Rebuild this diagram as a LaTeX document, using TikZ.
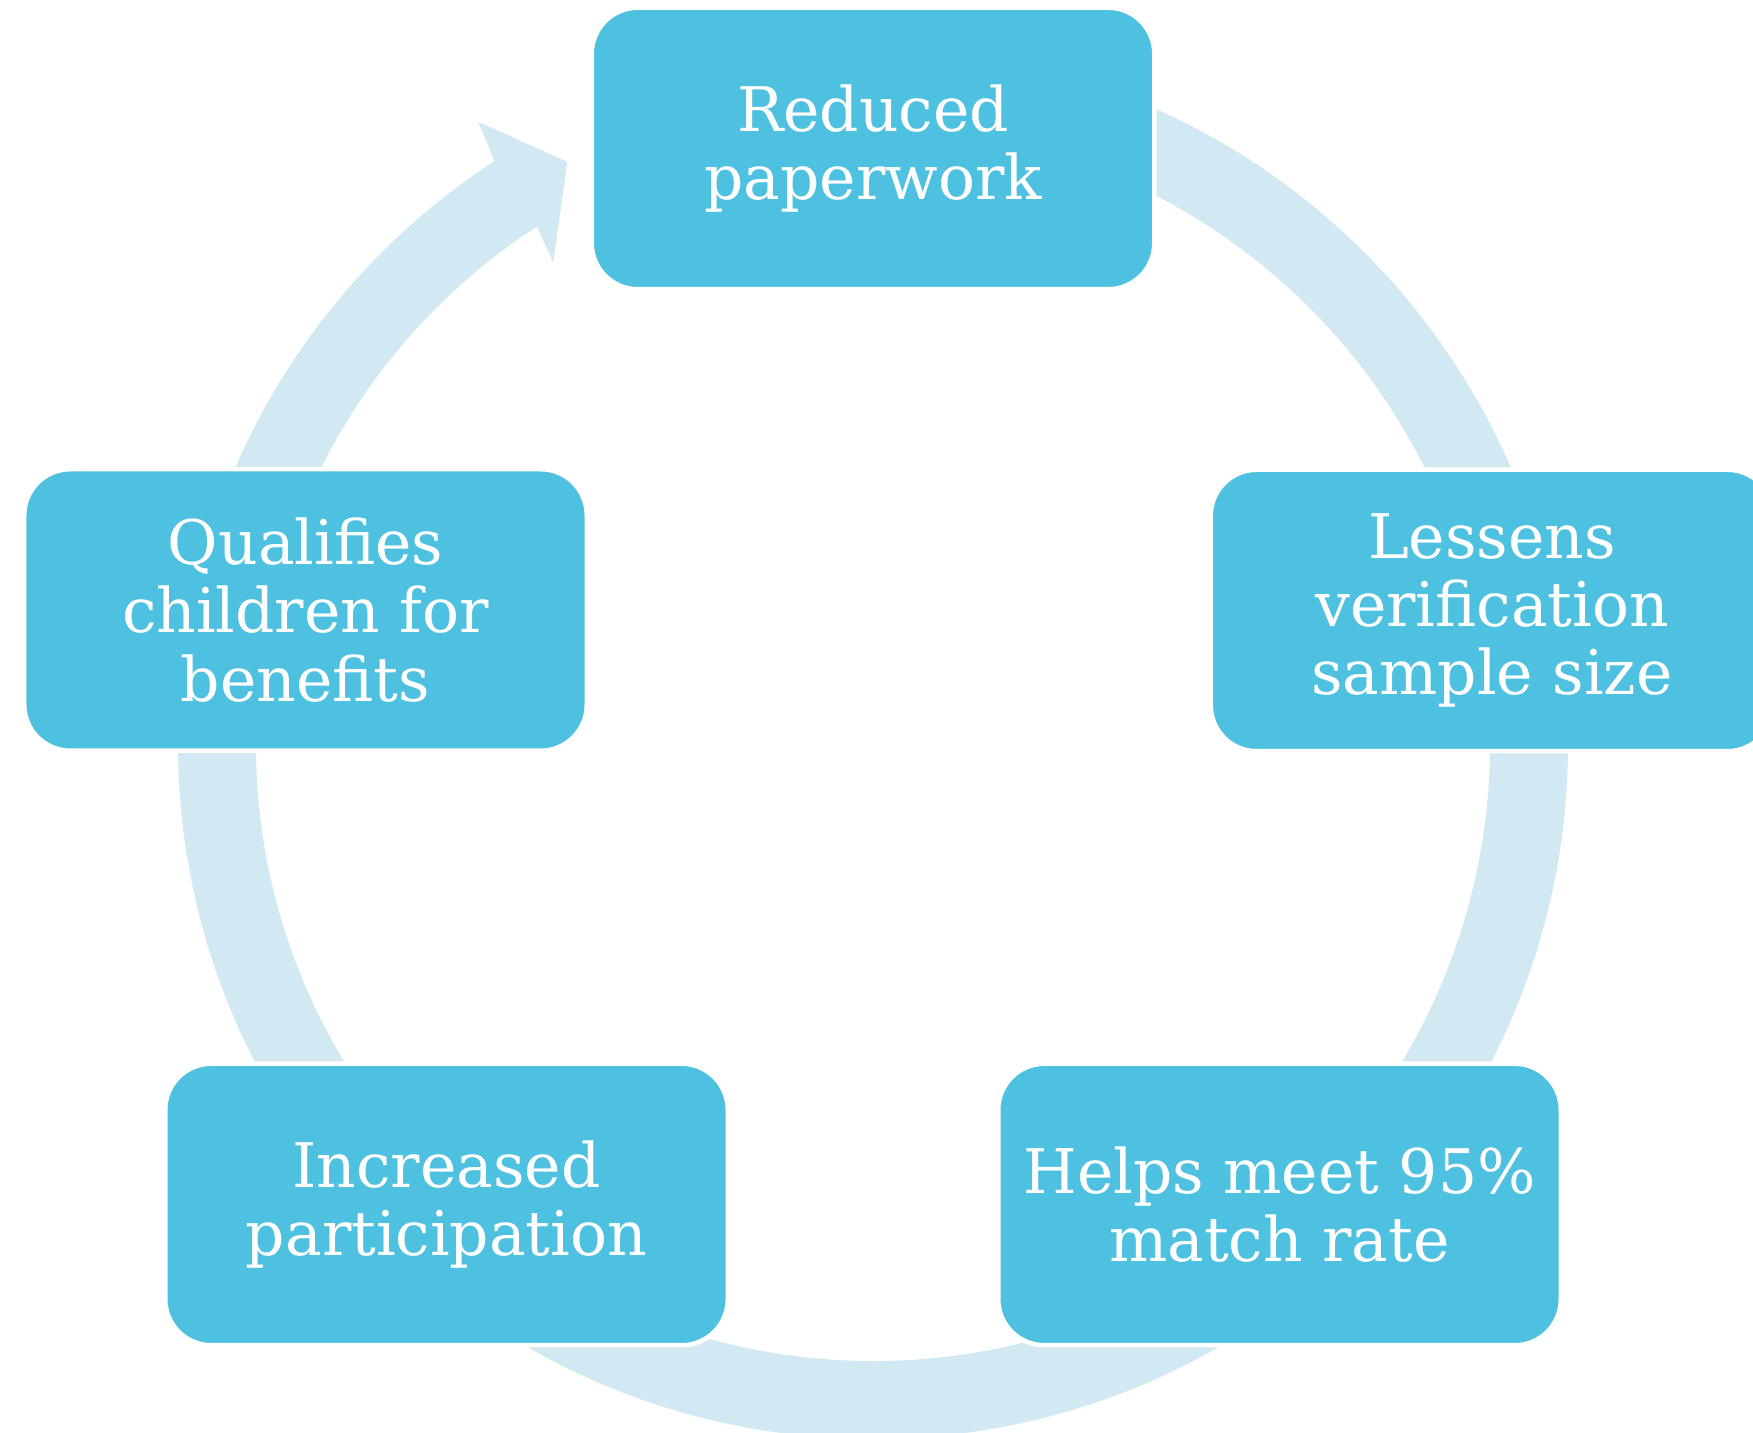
\documentclass[tikz,border=0pt]{standalone}
\usepackage{fontspec}
\setmainfont{DejaVu Serif}
\usepackage{tikz}
\usetikzlibrary{calc}
\usepackage{xcolor}

\definecolor{boxblue}{RGB}{79,193,224}
\definecolor{ringblue}{RGB}{210,233,243}

\begin{document}
\begin{tikzpicture}
  \useasboundingbox (0,0) rectangle (17.53,14.33);

  \tikzstyle{stage} = [draw=white, line width=0.045cm, fill=boxblue,
  rounded corners=0.46cm, minimum width=5.625cm, minimum height=2.815cm,
  text=white, align=center, inner sep=0pt,
  font=\fontsize{17.5}{19.4}\selectfont]

  \coordinate (hub) at (8.73,6.89);

% ring with the arrow head, boxes go on top
\begin{scope}[shift={(hub)}]
\fill[ringblue] (123:6.95) -- (122.4:7.37) -- (117.7:6.575) -- (123.6:5.78)
  -- (123:6.17) arc[start angle=123, end angle=450, radius=6.17]
  -- (450:6.95) arc[start angle=450, end angle=123, radius=6.95] -- cycle;
\end{scope}

\node[stage] (paper) at ($(hub)+(0,5.955)$) {Reduced\\paperwork};
\node[stage] (sample) at (14.92,8.225) {Lessens\\verification\\sample size};
\node[stage] (match) at (12.795,2.285) {Helps meet 95\%\\match rate};
\node[stage] (particip) at (4.465,2.285) {Increased\\participation};
\node[stage] (qualify) at (3.055,8.23) {Qualifies\\children for\\benefits};

\end{tikzpicture}
\end{document}
